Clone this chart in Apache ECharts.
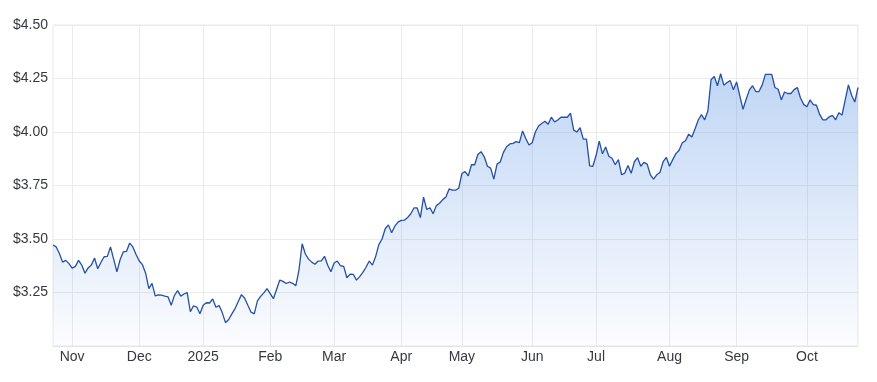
<!DOCTYPE html>
<html>
<head>
<meta charset="utf-8">
<script src="https://cdn.jsdelivr.net/npm/echarts@6/dist/echarts.min.js"></script>
<style>
html,body{margin:0;padding:0;background:#fff;}
#chart{width:877px;height:382px;}
</style>
</head>
<body>
<div id="chart"></div>
<script>
// Trading calendar (ASX) : first and last session, market holidays
const startDate = '2024-10-24';
const endDate = '2025-10-23';
const holidays = ['2024-12-25','2024-12-26','2025-01-01','2025-01-27','2025-04-18','2025-04-21','2025-04-25','2025-06-09'];

// Month tick labels (January shows the year)
const monthLabels = ['2025','Feb','Mar','Apr','May','Jun','Jul','Aug','Sep','Oct','Nov','Dec'];

// Closing prices, one per trading day
const pricesOctDec2024 = [
  3.472,3.463,3.432,3.392,3.400,3.385,3.364,3.372,3.400,3.378,
  3.340,3.365,3.378,3.411,3.361,3.390,3.417,3.419,3.463,3.405,
  3.346,3.403,3.440,3.442,3.481,3.463,3.428,3.397,3.380,3.340,
  3.268,3.293,3.234,3.239,3.238,3.233,3.230,3.190,3.236,3.259,
  3.233,3.243,3.249,3.160,3.188,3.182,3.151
];
const pricesJanMar2025 = [
  3.190,3.202,3.201,3.220,3.181,3.189,3.155,3.109,3.124,3.150,
  3.175,3.208,3.240,3.223,3.190,3.158,3.150,3.211,3.232,3.248,
  3.268,3.245,3.221,3.265,3.308,3.302,3.292,3.299,3.293,3.281,
  3.355,3.478,3.430,3.406,3.392,3.382,3.397,3.398,3.419,3.377,
  3.347,3.388,3.397,3.375,3.372,3.319,3.336,3.335,3.308,3.324,
  3.344,3.368,3.397,3.378,3.418,3.474,3.500,3.548,3.566,3.529,
  3.560,3.579
];
const pricesAprJun2025 = [
  3.587,3.588,3.600,3.618,3.645,3.645,3.600,3.696,3.638,3.646,
  3.618,3.656,3.667,3.684,3.696,3.734,3.728,3.728,3.737,3.806,
  3.815,3.795,3.847,3.847,3.895,3.908,3.884,3.840,3.831,3.780,
  3.850,3.860,3.905,3.931,3.944,3.947,3.955,3.950,4.005,3.970,
  3.939,3.950,4.000,4.028,4.040,4.050,4.036,4.069,4.047,4.056,
  4.069,4.069,4.069,4.088,4.009,4.000,4.020,3.967,3.967,3.842,
  3.840
];
const pricesJulOct2025 = [
  3.890,3.957,3.898,3.930,3.887,3.877,3.847,3.871,3.800,3.808,
  3.843,3.807,3.861,3.880,3.840,3.858,3.850,3.800,3.780,3.800,
  3.811,3.861,3.882,3.840,3.871,3.899,3.915,3.950,3.959,3.990,
  3.977,4.015,4.056,4.081,4.057,4.098,4.244,4.260,4.216,4.272,
  4.219,4.231,4.240,4.197,4.234,4.169,4.106,4.153,4.197,4.216,
  4.189,4.189,4.219,4.269,4.269,4.269,4.208,4.200,4.150,4.187,
  4.180,4.180,4.198,4.208,4.159,4.129,4.118,4.150,4.128,4.125,
  4.082,4.057,4.057,4.071,4.078,4.057,4.090,4.079,4.150,4.220,
  4.172,4.140,4.208
];

// Y axis ticks
const yMin = 3.0, yMax = 4.5, yStep = 0.25;

function pad(n){return (n<10?'0':'')+n;}
function tradingDays(a,b,hol){
  const out=[];
  const d=new Date(a+'T00:00:00Z'), e=new Date(b+'T00:00:00Z');
  while(d<=e){
    const wd=d.getUTCDay();
    const s=d.getUTCFullYear()+'-'+pad(d.getUTCMonth()+1)+'-'+pad(d.getUTCDate());
    if(wd!==0 && wd!==6 && hol.indexOf(s)<0) out.push(s);
    d.setUTCDate(d.getUTCDate()+1);
  }
  return out;
}
const dates = tradingDays(startDate,endDate,holidays);
const prices = pricesOctDec2024.concat(pricesJanMar2025,pricesAprJun2025,pricesJulOct2025);

function isMonthStart(idx){
  if(idx===0) return false;
  return dates[idx].slice(0,7)!==dates[idx-1].slice(0,7);
}

const chart = echarts.init(document.getElementById('chart'));
chart.setOption({
  animation:false,
  backgroundColor:'#ffffff',
  grid:{left:53,right:19,top:25,bottom:36,show:true,borderColor:'#e8e8e8',borderWidth:1},
  xAxis:{
    type:'category',
    data:dates,
    boundaryGap:false,
    axisLine:{show:true,lineStyle:{color:'#e3e3e3'}},
    axisTick:{show:false},
    axisLabel:{
      interval:function(i){return isMonthStart(i);},
      formatter:function(v){return monthLabels[parseInt(v.slice(5,7),10)-1];},
      color:'#343a40',fontSize:14,fontFamily:'Liberation Sans, Arial, sans-serif',margin:4
    },
    splitLine:{show:true,interval:function(i){return isMonthStart(i);},lineStyle:{color:'#ebebeb',width:1}}
  },
  yAxis:{
    type:'value',
    min:yMin,max:yMax,interval:yStep,
    axisLine:{show:false},
    axisTick:{show:false},
    axisLabel:{
      showMinLabel:false,
      formatter:function(v){return '$'+v.toFixed(2);},
      color:'#343a40',fontSize:14,fontFamily:'Liberation Sans, Arial, sans-serif',margin:5
    },
    splitLine:{show:true,lineStyle:{color:'#ebebeb',width:1}}
  },
  series:[{
    type:'line',
    data:prices,
    symbol:'none',
    smooth:false,
    lineStyle:{color:'#2350a5',width:1.3},
    areaStyle:{
      color:new echarts.graphic.LinearGradient(0,0,0,1,[
        {offset:0,color:'rgba(95,150,228,0.56)'},
        {offset:1,color:'rgba(95,150,228,0.03)'}
      ])
    }
  }]
});
</script>
</body>
</html>
